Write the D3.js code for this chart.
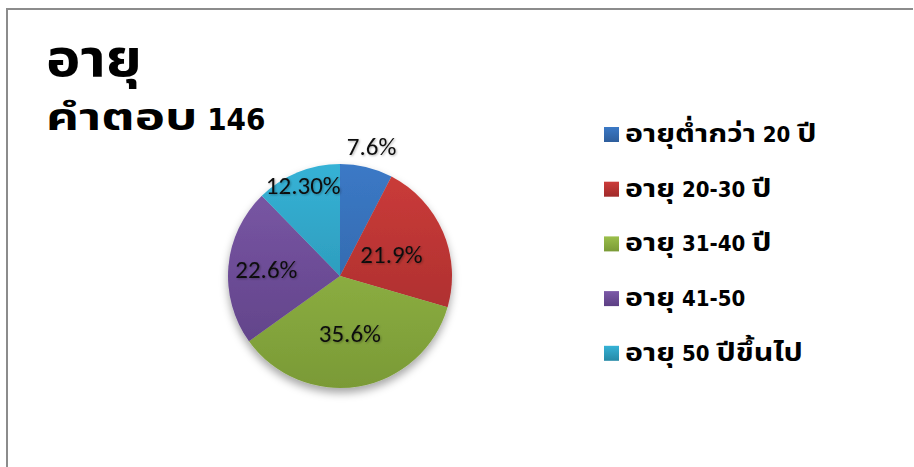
<!DOCTYPE html>
<html>
<head>
<meta charset="utf-8">
<script src="https://cdn.jsdelivr.net/npm/d3@7"></script>
<style>
  body { margin: 0; background: #fff; }
  svg { display: block; }
  .thai { font-family: "DejaVu Sans Condensed", "DejaVu Sans", "Noto Sans Thai", sans-serif; font-weight: bold; fill: #000; white-space: pre; }
  .lbl { font-family: Carlito, Calibri, "Open Sans", "Liberation Sans", sans-serif; font-size: 25px; fill: #111; }
</style>
</head>
<body>
<script>
var categories = ["อายุต่ำกว่า 20 ปี", "อายุ 20-30 ปี", "อายุ 31-40 ปี", "อายุ 41-50", "อายุ 50 ปีขึ้นไป"];
var values = [7.6, 21.9, 35.6, 22.6, 12.3];
var valueLabels = ["7.6%", "21.9%", "35.6%", "22.6%", "12.30%"];
var colors = ["#3b79c6", "#cc3c3a", "#9bbf4b", "#7c59a8", "#36b2d6"];
var darkColors = ["#2e5e9c", "#a02a2a", "#7a9a36", "#5c3f83", "#2589a6"];

var width = 914, height = 467;
var cx = 340, cy = 276, radius = 112;

var svg = d3.select("body").append("svg")
    .attr("width", width)
    .attr("height", height);

var defs = svg.append("defs");
colors.forEach(function(c, i) {
  var g = defs.append("linearGradient")
      .attr("id", "grad" + i)
      .attr("gradientUnits", "userSpaceOnUse")
      .attr("x1", 0).attr("y1", -radius)
      .attr("x2", 0).attr("y2", radius);
  g.append("stop").attr("offset", "0%").attr("stop-color", c);
  g.append("stop").attr("offset", "100%").attr("stop-color", darkColors[i]);

  var lg = defs.append("linearGradient").attr("id", "lg" + i)
      .attr("x1", 0).attr("y1", 0).attr("x2", 0).attr("y2", 1);
  lg.append("stop").attr("offset", "0%").attr("stop-color", c);
  lg.append("stop").attr("offset", "100%").attr("stop-color", darkColors[i]);
});
var f = defs.append("filter").attr("id", "shadow")
    .attr("x", "-20%").attr("y", "-20%").attr("width", "140%").attr("height", "150%");
f.append("feDropShadow").attr("dx", 0).attr("dy", 5).attr("stdDeviation", 4)
    .attr("flood-color", "#000").attr("flood-opacity", 0.35);
var ts = defs.append("filter").attr("id", "tshadow");
ts.append("feDropShadow").attr("dx", 1).attr("dy", 1).attr("stdDeviation", 0.8)
    .attr("flood-color", "#000").attr("flood-opacity", 0.3);

// frame
svg.append("path")
    .attr("d", "M7,467 L7,9 L913,9")
    .attr("fill", "none")
    .attr("stroke", "#8c8c8c")
    .attr("stroke-width", 2);

// thai glyphs come out narrower than in the original (Tahoma), so thai runs
// get their own stretch; latin runs (digits) are drawn as is
function mixedText(parent, str, x, y, size, thx, thy) {
  var g = parent.append("g").attr("transform", "translate(" + x + "," + y + ")");
  var runs = str.match(/[\u0E00-\u0E7F]+|[^\u0E00-\u0E7F]+/g);
  var cursor = 0;
  runs.forEach(function(r) {
    var isThai = /[\u0E00-\u0E7F]/.test(r);
    var sx = isThai ? thx : 1, sy = isThai ? thy : 1;
    var t = g.append("text")
        .attr("class", "thai")
        .style("font-size", size + "px")
        .attr("transform", "translate(" + cursor + ",0) scale(" + sx + "," + sy + ")")
        .text(r);
    cursor += t.node().getComputedTextLength() * sx;
  });
  return g;
}

mixedText(svg, "อายุ", 46, 76, 52, 1.12, 1.0);
mixedText(svg, "คำตอบ 146", 46, 130, 31, 1.65, 1.2);

var pie = d3.pie().sort(null).value(function(d) { return d; });
var arc = d3.arc().innerRadius(0).outerRadius(radius);
var arcs = pie(values);

var g = svg.append("g").attr("transform", "translate(" + cx + "," + cy + ")");
var slices = g.append("g").attr("filter", "url(#shadow)");
slices.selectAll("path")
    .data(arcs)
    .enter().append("path")
    .attr("d", arc)
    .attr("fill", function(d, i) { return "url(#grad" + i + ")"; });

// label positions: ratio of radius for each slice (first one sits outside)
var labelR = [1.19, 0.50, 0.52, 0.66, 0.87];
g.selectAll("text.lbl")
    .data(arcs)
    .enter().append("text")
    .attr("class", "lbl")
    .attr("filter", "url(#tshadow)")
    .attr("text-anchor", "middle")
    .attr("dy", "0.35em")
    .attr("transform", function(d, i) {
      var a = (d.startAngle + d.endAngle) / 2;
      var r = radius * labelR[i];
      return "translate(" + (Math.sin(a) * r) + "," + (-Math.cos(a) * r) + ")";
    })
    .text(function(d, i) { return valueLabels[i]; });

var legend = svg.append("g").attr("transform", "translate(604,134)");
var items = legend.selectAll("g")
    .data(categories)
    .enter().append("g")
    .attr("transform", function(d, i) { return "translate(0," + (i * 54.7) + ")"; });
items.append("rect")
    .attr("x", 0).attr("y", -7)
    .attr("width", 15).attr("height", 15)
    .attr("fill", function(d, i) { return "url(#lg" + i + ")"; });
items.each(function(d) {
  mixedText(d3.select(this), d, 21, 8, 22, 1.38, 1.15);
});
</script>
</body>
</html>
